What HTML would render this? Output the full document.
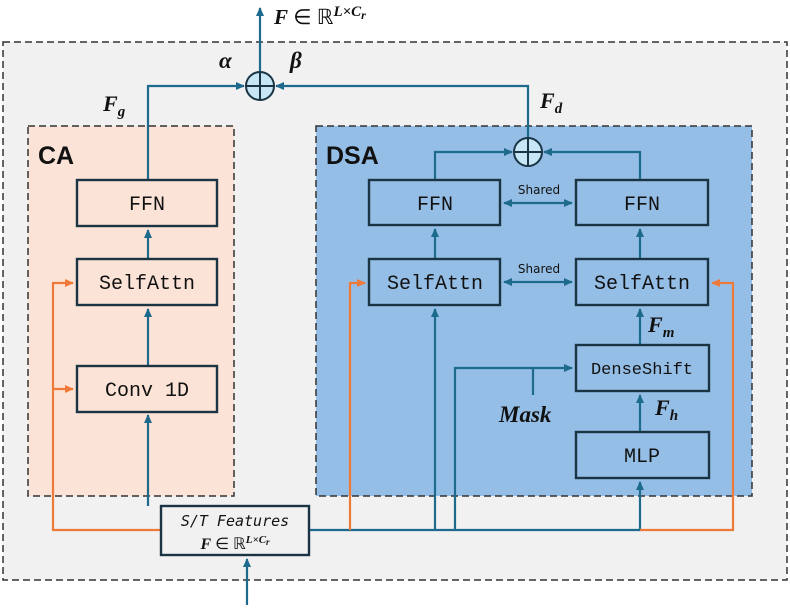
<!DOCTYPE html>
<html><head><meta charset="utf-8"><style>
html,body{margin:0;padding:0;background:#fff;}
svg{display:block;}
.m{font-family:"Liberation Mono","DejaVu Sans Mono",monospace;font-size:20px;fill:#111;text-anchor:middle;}
.b{fill:none;stroke:#1b3443;stroke-width:2.4;}
.bl{stroke:#1d6a8c;stroke-width:2.2;fill:none;}
.or{stroke:#ee7a3a;stroke-width:2.2;fill:none;}
.mt{font-family:"Liberation Serif",serif;font-weight:bold;font-style:italic;fill:#111;}
</style></head><body>
<svg width="790" height="608" viewBox="0 0 790 608" xmlns="http://www.w3.org/2000/svg">
<defs>
<marker id="ab" markerWidth="10" markerHeight="10" refX="8" refY="4.5" orient="auto" markerUnits="userSpaceOnUse"><path d="M0,0.5 L9,4.5 L0,8.5z" fill="#1d6a8c"/></marker>
<marker id="ao" markerWidth="10" markerHeight="10" refX="8" refY="4.5" orient="auto" markerUnits="userSpaceOnUse"><path d="M0,0.5 L9,4.5 L0,8.5z" fill="#ee7a3a"/></marker>
<marker id="as" markerWidth="10" markerHeight="10" refX="1" refY="4.5" orient="auto" markerUnits="userSpaceOnUse"><path d="M9,0.5 L0,4.5 L9,8.5z" fill="#1d6a8c"/></marker>
</defs>
<rect x="3" y="42" width="784" height="538" fill="#f1f1f1" stroke="#333" stroke-width="1.5" stroke-dasharray="7,4"/>
<rect x="28" y="126" width="206" height="370" fill="#fbe4d7" stroke="#333" stroke-width="1.5" stroke-dasharray="7,4"/>
<rect x="316" y="126" width="436" height="370" fill="#95bee7" stroke="#333" stroke-width="1.5" stroke-dasharray="7,4"/>
<text x="38" y="164" font-family="Liberation Sans,sans-serif" font-weight="bold" font-size="25" fill="#111">CA</text>
<text x="326" y="164" font-family="Liberation Sans,sans-serif" font-weight="bold" font-size="25" fill="#111">DSA</text>

<path class="bl" d="M260,72 V8" marker-end="url(#ab)"/>
<path class="bl" d="M148,180 V86 H244" marker-end="url(#ab)"/>
<path class="bl" d="M528,138 V86 H276" marker-end="url(#ab)"/>
<path class="bl" d="M435,180 V152 H512" marker-end="url(#ab)"/>
<path class="bl" d="M640,180 V152 H544" marker-end="url(#ab)"/>
<path class="bl" d="M148,259 V230" marker-end="url(#ab)"/>
<path class="bl" d="M148,366 V309" marker-end="url(#ab)"/>
<path class="bl" d="M148,506 V415" marker-end="url(#ab)"/>
<path class="bl" d="M435,259 V229" marker-end="url(#ab)"/>
<path class="bl" d="M640,259 V229" marker-end="url(#ab)"/>
<path class="bl" d="M640,345 V309" marker-end="url(#ab)"/>
<path class="bl" d="M640,432 V395" marker-end="url(#ab)"/>
<path class="bl" d="M309,530 H640 V482" marker-end="url(#ab)"/>
<path class="bl" d="M435,530 V309" marker-end="url(#ab)"/>
<path class="bl" d="M455,530 V368 H572" marker-end="url(#ab)"/>
<path class="bl" d="M533,368 V395"/>
<path class="bl" d="M247,605 V559" marker-end="url(#ab)"/>
<path class="bl" d="M504,203 H572" marker-start="url(#as)" marker-end="url(#ab)"/>
<path class="bl" d="M504,282 H572" marker-start="url(#as)" marker-end="url(#ab)"/>
<path class="or" d="M161,530 H53 V283 H73" marker-end="url(#ao)"/>
<path class="or" d="M53,389 H73" marker-end="url(#ao)"/>
<path class="or" d="M350,530 V283 H365" marker-end="url(#ao)"/>
<path class="or" d="M640,530 H733 V283 H712" marker-end="url(#ao)"/>

<g stroke="#1b3443" stroke-width="2" fill="#c6e6f5">
<circle cx="260" cy="86" r="14"/><path d="M246,86 H274 M260,72 V100"/>
<circle cx="528" cy="152" r="14"/><path d="M514,152 H542 M528,138 V166"/>
</g>

<rect class="b" x="77" y="180" width="140" height="46"/><text class="m" x="147" y="210">FFN</text>
<rect class="b" x="77" y="259" width="140" height="46"/><text class="m" x="147" y="289">SelfAttn</text>
<rect class="b" x="77" y="366" width="140" height="46"/><text class="m" x="147" y="396">Conv 1D</text>
<rect class="b" x="369" y="180" width="131" height="45"/><text class="m" x="435" y="210">FFN</text>
<rect class="b" x="369" y="259" width="131" height="46"/><text class="m" x="435" y="289">SelfAttn</text>
<rect class="b" x="576" y="180" width="132" height="45"/><text class="m" x="642" y="210">FFN</text>
<rect class="b" x="576" y="259" width="132" height="46"/><text class="m" x="642" y="289">SelfAttn</text>
<rect class="b" x="576" y="345" width="133" height="46"/><text class="m" x="642" y="374" style="font-size:17px">DenseShift</text>
<rect class="b" x="576" y="432" width="133" height="46"/><text class="m" x="642" y="462">MLP</text>
<rect class="b" x="161" y="506" width="148" height="49"/>
<text x="235" y="526" text-anchor="middle" font-family="DejaVu Sans Mono,monospace" font-style="italic" font-size="15" fill="#111">S/T Features</text>
<text x="235" y="549" text-anchor="middle" font-size="16" fill="#111" font-family="Liberation Serif,serif"><tspan font-weight="bold" font-style="italic">F</tspan> ∈ ℝ<tspan font-size="11" dy="-6" font-style="italic" font-weight="bold">L×C</tspan><tspan font-size="9" dy="2" font-style="italic" font-weight="bold">r</tspan></text>
<text x="539" y="194" text-anchor="middle" font-family="DejaVu Sans,sans-serif" font-size="12" fill="#111">Shared</text>
<text x="539" y="273" text-anchor="middle" font-family="DejaVu Sans,sans-serif" font-size="12" fill="#111">Shared</text>

<text x="274" y="24" font-size="21" fill="#111" font-family="Liberation Serif,serif"><tspan class="mt">F</tspan> ∈ ℝ<tspan class="mt" font-size="15" dy="-8">L×C</tspan><tspan class="mt" font-size="12" dy="3">r</tspan></text>
<text class="mt" x="219" y="68" font-size="23">α</text>
<text class="mt" x="290" y="68" font-size="23">β</text>
<text class="mt" x="103" y="111" font-size="22">F<tspan font-size="15" dy="5">g</tspan></text>
<text class="mt" x="540" y="108" font-size="22">F<tspan font-size="15" dy="5">d</tspan></text>
<text class="mt" x="648" y="332" font-size="22">F<tspan font-size="15" dy="5">m</tspan></text>
<text class="mt" x="655" y="415" font-size="22">F<tspan font-size="15" dy="5">h</tspan></text>
<text class="mt" x="499" y="422" font-size="23">Mask</text>
</svg>
</body></html>
